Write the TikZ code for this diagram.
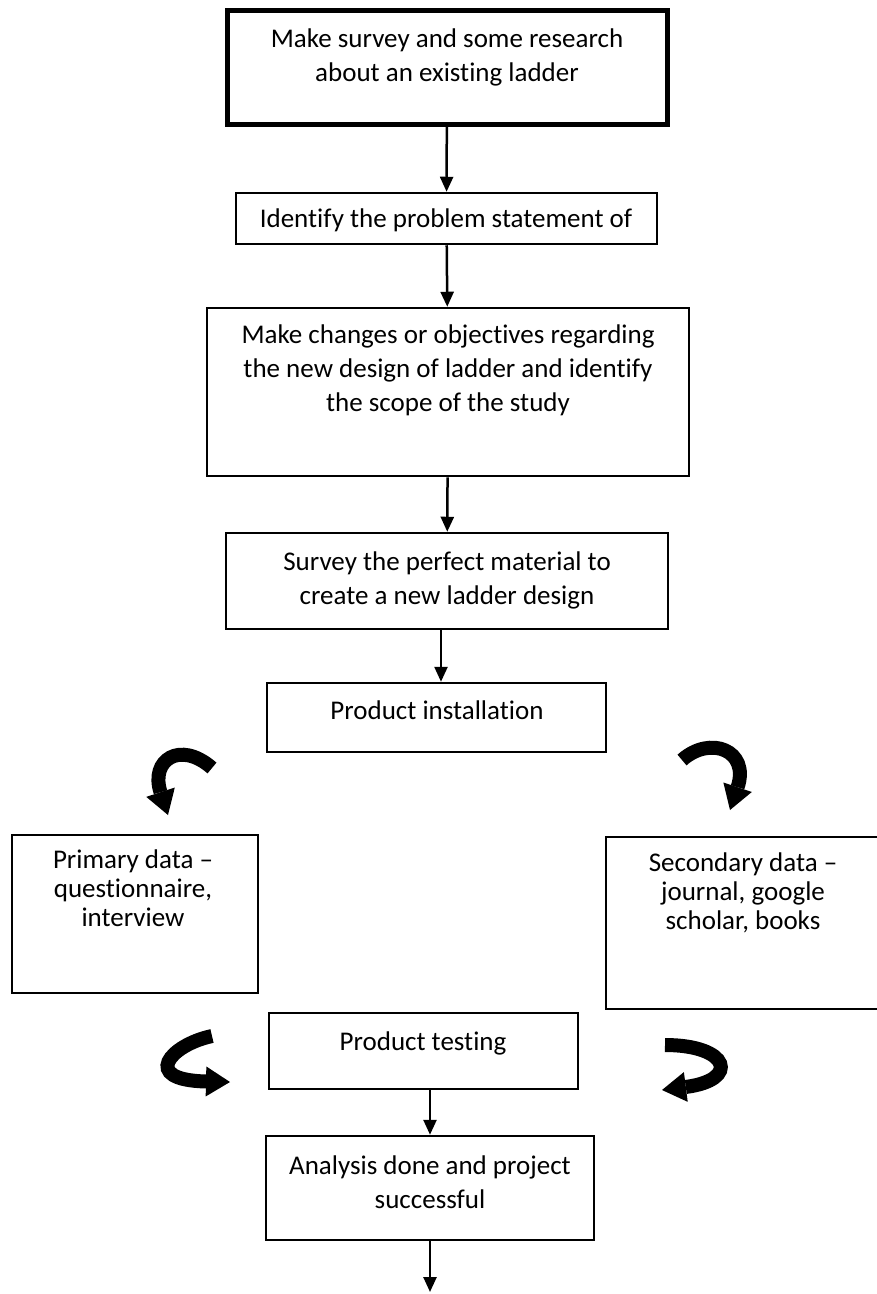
\documentclass[tikz,border=0pt]{standalone}
\usepackage{fontspec}
\setmainfont{Carlito}[Ligatures=NoCommon]
\usetikzlibrary{arrows.meta}

\begin{document}
\begin{tikzpicture}[
      x=1pt,y=-1pt,
      box/.style={draw,line width=2.5pt,inner sep=0pt},
      bigbox/.style={box,line width=5pt},
      txt/.style={align=center,inner sep=0pt,font=\fontsize{27}{34}\selectfont},
      flow/.style={line width=2.5pt,-{Triangle[width=13pt,length=15pt]}},
      curly/.style={line width=14pt,-{Triangle[width=30pt,length=24pt,line width=0pt]}}
    ]
    \useasboundingbox (0,0) rectangle (877,1294);
    % Draw the boxes.
    \node[bigbox,minimum width=440pt,minimum height=114pt] (b1) at (447,67) {};
    \node[box,minimum width=421pt,minimum height=51pt] (b2) at (446.5,218.5) {};
    \node[box,minimum width=482pt,minimum height=168pt] (b3) at (448,392) {};
    \node[box,minimum width=442pt,minimum height=96pt] (b4) at (447,581) {};
    \node[box,minimum width=339pt,minimum height=69pt] (b5) at (436.5,717.5) {};
    \node[box,minimum width=246pt,minimum height=158pt] (b6) at (135,914) {};
    \node[box,minimum width=274pt,minimum height=172pt] (b7) at (743,923) {};
    \node[box,minimum width=309pt,minimum height=76pt] (b8) at (423.5,1051) {};
    \node[box,minimum width=328pt,minimum height=104pt] (b9) at (430,1188) {};
    % Draw the texts.
    \node[txt] (t1) at (447,57) {Make survey and some research\\about an existing ladder};
    \node[txt] (t2) at (446,220) {Identify the problem statement of};
    \node[txt] (t3) at (448,370) {Make changes or objectives regarding\\the new design of ladder and identify\\the scope of the study};
    \node[txt] (t4) at (447,580) {Survey the perfect material to\\create a new ladder design};
    \node[txt] (t5) at (437,710) {Product installation};
    \node[txt,font=\fontsize{27}{29}\selectfont] (t6) at (133,888) {Primary data --\\questionnaire,\\interview};
    \node[txt,font=\fontsize{27}{29}\selectfont] (t7) at (743,893) {Secondary data --\\journal, google\\scholar, books};
    \node[txt] (t8) at (423,1043) {Product testing};
    \node[txt] (t9) at (430,1182) {Analysis done and project\\successful};
    % Draw the flow.
    \draw[flow] (b1) -- (b2);
    \draw[flow] (b2) -- (b3);
    \draw[flow] (b3) -- (b4);
    \draw[flow] ([xshift=-6pt]b4.south) -- ([xshift=-6pt]b4.south |- b5.north);
    \draw[flow] (b8.south -| b9.north) -- (b9.north);
    \coordinate (end) at (430,1292);
    \draw[flow] (b9) -- (end);
    % Draw the curly arrows.
    \draw[curly] (212,768) .. controls (180,740) and (150,760) .. (168,815);
    \draw[curly] (682,760) .. controls (710,735) and (750,750) .. (730,810);
    \draw[curly] (212,1036) .. controls (170,1045) and (140,1080) .. (230,1082);
    \draw[curly] (665,1045) .. controls (730,1045) and (740,1080) .. (662,1090);
\end{tikzpicture}
\end{document}
